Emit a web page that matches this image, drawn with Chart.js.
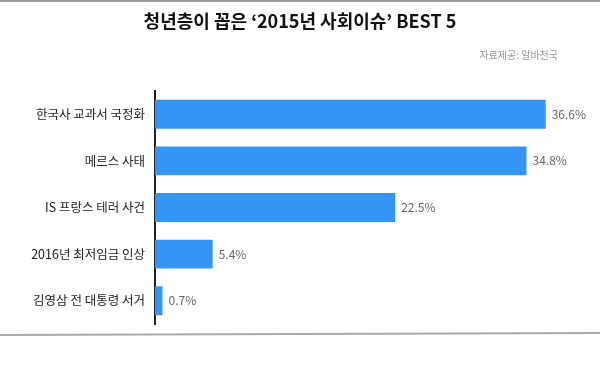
<!DOCTYPE html>
<html>
<head>
<meta charset="utf-8">
<script src="https://cdn.jsdelivr.net/npm/chart.js@4"></script>
<style>
  html, body { margin: 0; padding: 0; background: #fff; }
  #wrap { width: 600px; height: 370px; }
</style>
</head>
<body>
<div id="wrap"><canvas id="issueChart" width="600" height="370"></canvas></div>
<script>
// 청년층이 꼽은 2015년 사회이슈 (자료: 알바천국)
const issues = ['한국사 교과서 국정화', '메르스 사태', 'IS 프랑스 테러 사건', '2016년 최저임금 인상', '김영삼 전 대통령 서거'];
const shares = [36.6, 34.8, 22.5, 5.4, 0.7];

const titleText = '청년층이 꼽은 ‘2015년 사회이슈’ BEST 5';
const sourceText = '자료제공: 알바천국';
const fontFamily = '"Noto Sans CJK KR", "Noto Sans", sans-serif';

// Title, source, frame lines and value labels
const decorPlugin = {
    id: 'decor',
    beforeDraw(chart) {
        const ctx = chart.ctx;
        ctx.save();
        ctx.strokeStyle = '#9a9a9a';
        ctx.lineWidth = 2;
        ctx.beginPath();
        ctx.moveTo(0, 1);
        ctx.lineTo(600, 1);
        ctx.stroke();
        ctx.strokeStyle = '#a8a8a8';
        ctx.beginPath();
        ctx.moveTo(0, 335);
        ctx.lineTo(600, 333);
        ctx.stroke();

        ctx.fillStyle = '#111';
        ctx.font = 'bold 18px ' + fontFamily;
        ctx.textAlign = 'center';
        ctx.textBaseline = 'middle';
        ctx.fillText(titleText, 300, 21);

        ctx.fillStyle = '#999';
        ctx.font = '10px ' + fontFamily;
        ctx.textAlign = 'right';
        ctx.fillText(sourceText, 558, 55);
        ctx.restore();
    },
    afterDatasetsDraw(chart) {
        const ctx = chart.ctx;
        const meta = chart.getDatasetMeta(0);
        ctx.save();
        ctx.fillStyle = '#666';
        ctx.font = '12px ' + fontFamily;
        ctx.textAlign = 'left';
        ctx.textBaseline = 'middle';
        meta.data.forEach(function (bar, i) {
            ctx.fillText(shares[i].toFixed(1) + '%', bar.x + 6, bar.y);
        });
        ctx.restore();
    }
};

const ctx = document.getElementById('issueChart').getContext('2d');
const issueChart = new Chart(ctx, {
    type: 'bar',
    data: {
        labels: issues,
        datasets: [{
            data: shares,
            backgroundColor: '#3495f7',
            borderWidth: 0,
            barPercentage: 0.62,
            categoryPercentage: 1
        }]
    },
    options: {
        indexAxis: 'y',
        responsive: false,
        animation: false,
        layout: { padding: { top: 91, bottom: 46, right: 18, left: 0 } },
        plugins: {
            legend: { display: false },
            tooltip: { enabled: false }
        },
        scales: {
            x: {
                display: false,
                min: 0,
                max: 40
            },
            y: {
                afterFit(scale) { scale.width = 155; },
                grid: { display: false, drawTicks: false },
                border: { display: true, color: '#222', width: 2 },
                ticks: {
                    padding: 10,
                    color: '#222',
                    font: { family: fontFamily, size: 12.5 }
                }
            }
        }
    },
    plugins: [decorPlugin]
});
</script>
</body>
</html>
